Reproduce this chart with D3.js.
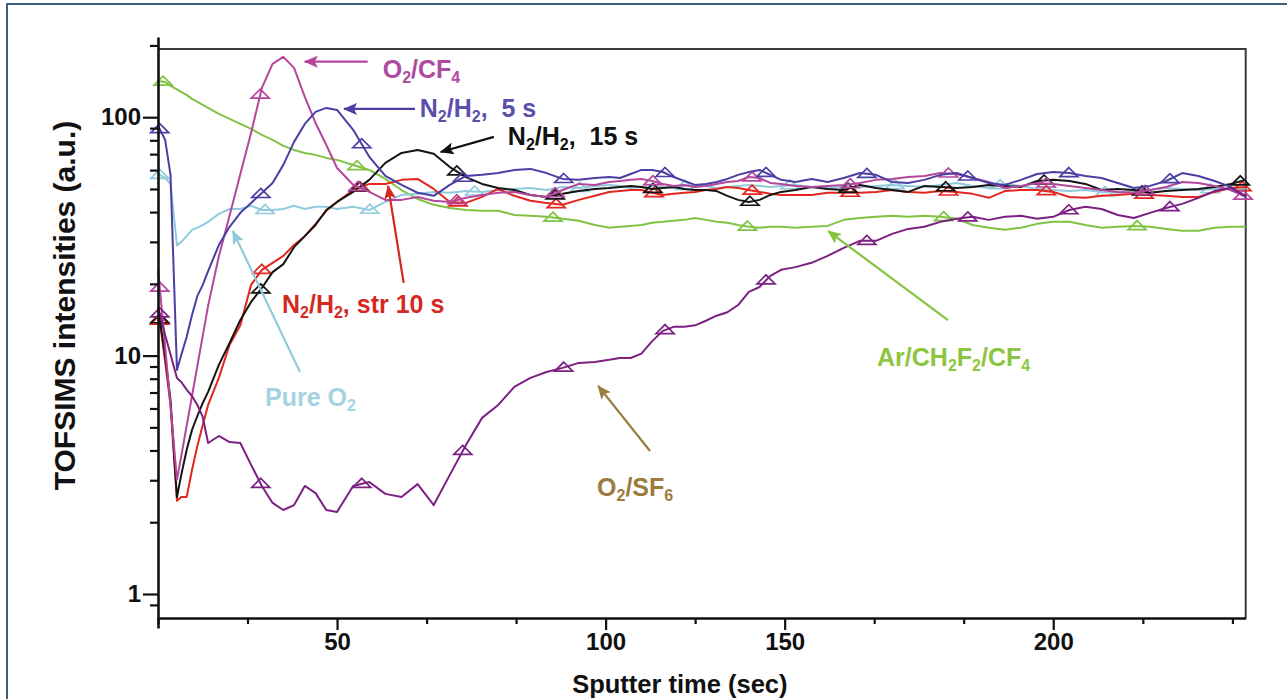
<!DOCTYPE html>
<html>
<head>
<meta charset="utf-8">
<script src="https://cdn.jsdelivr.net/npm/d3@7"></script>
<style>
  html, body { margin: 0; padding: 0; background: #ffffff; }
  svg { display: block; font-family: "Liberation Sans", Arial, Helvetica, sans-serif; }
  text { white-space: pre; }
</style>
</head>
<body>
<svg id="chart" width="1287" height="699"></svg>
<script>
// ---- Sputter time grid (sec), shared by every profile ----
const seconds = [16.7, 18, 19, 20.2, 21, 22, 23, 24, 25, 26,
  28, 30, 32, 34, 36, 38, 40, 42, 44, 46, 48, 50,
  53, 56, 59, 62, 65, 68, 71, 74, 77, 80, 83, 86, 89, 92, 95, 98,
  101, 104, 107, 110, 113, 116, 119, 122, 125, 128, 131, 134, 137, 140, 143, 146, 149,
  152, 155, 158, 161, 164, 167, 170, 173, 176, 179, 182, 185, 188, 191, 194, 197, 200,
  203, 206, 209, 212, 215, 218, 221, 224, 227, 230, 233, 235.8];

// ---- TOFSIMS intensities (a.u.) for each etch chemistry ----
const arCh2f2Cf4 = [142.0, 140.6, 135.3, 130.7, 127.7, 124.1, 119.4, 115.9, 112.6, 109.4,
  103.2, 98.4, 93.7, 89.3, 84.3, 80.3, 75.8, 72.9, 70.8, 69.5, 67.5, 66.2,
  63.0, 60.1, 55.1, 49.5, 45.4, 42.9, 41.6, 40.8, 40.5, 40.5, 38.9, 38.6, 38.2, 37.5, 36.8, 35.3,
  34.4, 34.7, 35.0, 35.3, 36.1, 36.4, 36.8, 37.1, 37.8, 37.1, 36.4, 36.1, 35.3, 34.7, 34.4, 34.7, 34.7,
  34.4, 34.7, 35.0, 37.1, 37.8, 38.2, 38.6, 38.2, 38.6, 38.2, 37.5, 35.3, 34.4, 33.7, 34.4, 35.7,
  36.4, 36.4, 35.3, 34.4, 34.7, 35.0, 34.7, 34.0, 33.4, 33.4, 34.4, 34.7, 34.7];

const o2Cf4 = [22.9, 10.9, 6.15, 3.01, 3.79, 5.07, 6.77, 9.05, 12.1, 16.2,
  26.1, 38.7, 57.8, 86.0, 132.7, 167.3, 179.1, 161.0, 121.7, 94.6, 76.5, 61.2,
  52.1, 48.6, 45.0, 45.0, 46.3, 44.6, 44.1, 45.9, 47.2, 48.2, 48.6, 47.2, 46.3, 49.5, 52.5, 52.0,
  53.5, 54.0, 54.6, 55.1, 54.0, 52.5, 51.5, 52.0, 51.0, 51.5, 52.5, 53.5, 54.0, 56.1, 55.6, 53.0, 52.5,
  51.5, 51.0, 51.5, 52.0, 53.0, 54.6, 55.1, 56.1, 56.7, 58.3, 57.8, 55.6, 53.5, 50.5, 51.5, 53.0,
  52.5, 51.5, 50.5, 49.5, 48.6, 48.2, 49.5, 51.0, 53.5, 53.0, 51.5, 49.5, 46.3];

const n2h2Pulse5s = [91.9, 80.3, 57.3, 8.71, 10.06, 11.97, 14.8, 17.8, 19.8, 22.6,
  29.1, 34.7, 39.7, 43.7, 48.1, 53.0, 63.1, 78.8, 93.7, 105.3, 109.4, 107.3,
  88.5, 68.2, 56.7, 52.0, 48.2, 46.8, 52.0, 56.7, 57.3, 58.3, 60.1, 60.7, 58.3, 55.1, 54.6, 55.6,
  56.1, 55.6, 57.8, 60.1, 60.1, 58.9, 56.1, 54.0, 52.0, 52.5, 53.5, 55.1, 57.3, 58.9, 60.1, 57.3, 54.6,
  53.5, 55.1, 53.5, 55.6, 58.3, 57.3, 53.5, 53.0, 54.6, 57.3, 58.3, 55.6, 53.0, 52.0, 54.6, 57.8,
  58.9, 58.3, 56.7, 55.6, 53.0, 50.5, 51.5, 54.0, 58.3, 56.7, 54.0, 51.0, 46.3];

const n2h2Pulse15s = [15.8, 9.97, 6.51, 2.55, 3.16, 4.02, 4.88, 5.58, 6.33, 7.04,
  9.14, 11.3, 14.1, 16.8, 19.2, 22.4, 24.2, 28.5, 31.7, 35.3, 40.8, 44.1,
  48.6, 54.6, 64.3, 70.8, 72.9, 70.2, 61.8, 56.1, 52.5, 50.5, 49.5, 47.2, 46.3, 47.7, 49.0, 50.0,
  50.5, 51.0, 51.5, 51.0, 50.0, 50.5, 51.0, 50.0, 49.5, 49.5, 49.0, 46.8, 45.0, 44.1, 45.0, 47.2, 48.6,
  49.5, 51.0, 50.0, 49.5, 52.0, 50.5, 49.5, 48.6, 51.5, 51.0, 50.5, 51.0, 52.0, 51.5, 51.0, 54.0,
  54.6, 54.0, 52.5, 49.5, 50.0, 49.5, 48.2, 49.0, 49.5, 50.0, 51.0, 52.5, 54.6];

const n2h2Str10s = [15.8, 9.41, 6.21, 2.46, 2.55, 2.55, 3.31, 4.18, 5.12, 6.21,
  8.06, 11.1, 13.4, 19.8, 22.9, 24.5, 26.2, 29.1, 31.7, 35.7, 40.5, 44.1,
  49.5, 52.5, 52.5, 54.6, 55.1, 50.0, 44.1, 43.7, 46.3, 50.0, 46.8, 44.6, 43.7, 42.9, 45.0, 46.8,
  48.6, 49.0, 49.5, 49.5, 48.2, 47.2, 47.7, 48.2, 48.6, 49.5, 50.0, 51.0, 50.5, 49.5, 48.6, 47.7, 47.2,
  47.2, 47.2, 48.2, 48.2, 48.2, 48.6, 49.5, 48.6, 48.2, 49.0, 48.6, 47.7, 45.9, 49.0, 49.5, 49.5,
  48.6, 46.3, 45.9, 46.8, 47.2, 47.7, 47.2, 46.8, 46.3, 46.3, 48.6, 50.5, 51.0];

const pureO2 = [57.8, 55.6, 52.5, 29.0, 30.0, 31.7, 33.7, 34.4, 35.3, 36.4,
  39.3, 41.2, 41.2, 42.5, 40.8, 40.8, 41.2, 42.5, 41.2, 42.1, 42.1, 41.2,
  42.1, 40.8, 44.1, 47.2, 47.7, 48.6, 48.2, 49.0, 48.6, 49.5, 50.0, 50.5, 49.5, 51.0, 50.5, 51.5,
  52.0, 51.5, 50.5, 51.0, 51.5, 51.0, 50.5, 51.5, 52.0, 51.5, 50.5, 51.0, 51.5, 52.0, 51.5, 51.0, 51.5,
  52.0, 51.0, 50.5, 51.0, 51.0, 51.5, 52.0, 51.5, 51.0, 52.0, 53.0, 51.5, 50.5, 52.5, 51.5, 50.0,
  49.5, 49.0, 49.5, 48.6, 48.2, 49.0, 49.5, 50.5, 50.0, 49.5, 50.0, 50.5, 50.0];

const o2Sf6 = [16.0, 12.2, 10.1, 8.06, 7.75, 7.2, 6.77, 6.21, 5.53, 4.30,
  4.60, 4.34, 4.30, 3.48, 2.84, 2.41, 2.25, 2.36, 2.84, 2.65, 2.25, 2.21,
  2.84, 2.95, 2.63, 2.55, 2.89, 2.36, 3.16, 4.22, 5.48, 6.21, 7.39, 8.06, 8.54, 8.88, 9.32, 9.41,
  9.6, 9.77, 9.77, 10.2, 11.5, 12.7, 13.2, 13.2, 13.4, 14.0, 14.7, 15.2, 16.3, 18.5, 19.4, 21.6, 22.9,
  23.5, 24.5, 26.2, 28.3, 30.3, 30.3, 32.4, 34.0, 34.7, 36.4, 37.5, 38.2, 37.1, 38.2, 38.6, 37.5,
  38.2, 40.8, 42.1, 41.2, 38.9, 37.8, 39.7, 41.6, 43.3, 45.9, 49.0, 50.5, 46.8];

// ---- Times (sec) carrying an open-triangle symbol on each profile ----
const arMarks = [17.6, 53.7, 90.2, 139.6, 179.6, 215.6];
const o2Cf4Marks = [17.0, 35.7, 53.9, 72.3, 90.6, 113.2, 140.9, 162.2, 180.5, 198.7, 217.1, 235.3];
const n2h2Pulse5sMarks = [17.0, 35.8, 54.6, 73.4, 92.2, 116.6, 144.8, 165.3, 184.1, 202.9, 221.7];
const n2h2Pulse15sMarks = [17.0, 35.8, 54.1, 72.3, 90.6, 113.2, 140.3, 161.8, 180.0, 198.3, 216.5, 234.8];
const n2h2Str10sMarks = [17.0, 36.0, 54.3, 72.5, 90.8, 113.5, 140.9, 162.2, 180.5, 198.7, 216.9, 235.1];
const pureO2Marks = [17.0, 36.6, 56.1, 75.6, 95.2, 122.1, 151.0, 170.5, 190.1, 209.6, 229.2];
const o2Sf6Marks = [17.0, 35.8, 54.6, 73.4, 92.2, 116.6, 144.8, 165.3, 184.1, 202.9, 221.7];

// ---- Axis ticks ----
const xMajorTicks = [50, 100, 150, 200];
const xMinorTicks = [16.67, 33.33, 66.67, 83.33, 125, 166.67, 183.33, 216.67, 233.33];
const xBreaks = [16.67, 50, 100, 150, 200, 235.8];      // sec at the labelled tick marks
const xBreakSlots = [0, 2, 5, 7, 10, 12.15];             // equal-width tick slots
const yMajorTicks = [1, 10, 100];
const yMinorTicks = [0.9, 2, 3, 4, 5, 6, 7, 8, 9, 20, 30, 40, 50, 60, 70, 80, 90, 200];
const yDomain = [0.72, 217];

// ---- Callout labels: text position and arrow (sec, a.u.) ----
const callouts = [
  { text: "O_2/CF_4",        color: "#b04a9e", line: "#b4479d", at: [58.5, 146],  from: [55.7, 171],  to: [44.0, 171] },
  { text: "N_2/H_2,  5 s",   color: "#5a4fab", line: "#4b3fa4", at: [65.4, 100.3], from: [64.5, 108.3], to: [51.3, 108.3] },
  { text: "N_2/H_2,  15 s",  color: "#111111", line: "#111111", at: [81.8, 76.5],  from: [79.2, 82.7],  to: [69.3, 71.5] },
  { text: "N_2/H_2, str 10 s", color: "#d4291f", line: "#d4291f", at: [39.75, 15.1], from: [62.4, 20.2],  to: [59.5, 51.5] },
  { text: "Pure O_2",        color: "#a6d3e1", line: "#92cadb", at: [36.6, 6.15],  from: [43.1, 8.54],  to: [30.6, 33.3] },
  { text: "Ar/CH_2F_2/CF_4", color: "#8cc540", line: "#84c344", at: [167.2, 9.05], from: [180.4, 14.1], to: [158.1, 33.3] },
  { text: "O_2/SF_6",        color: "#9c7c3e", line: "#9c7c3e", at: [98.4, 2.58],  from: [112.4, 3.98], to: [98.6, 7.46] }
];

const profiles = [
  { values: arCh2f2Cf4,   marks: arMarks,          color: "#80c343" },
  { values: pureO2,       marks: pureO2Marks,      color: "#8fcbdc" },
  { values: n2h2Str10s,   marks: n2h2Str10sMarks,  color: "#e3261f" },
  { values: n2h2Pulse15s, marks: n2h2Pulse15sMarks, color: "#141414" },
  { values: o2Cf4,        marks: o2Cf4Marks,       color: "#b4479d" },
  { values: n2h2Pulse5s,  marks: n2h2Pulse5sMarks, color: "#4b3fa4" },
  { values: o2Sf6,        marks: o2Sf6Marks,       color: "#7c2183" }
];

// ---- Layout ----
const W = 1287, H = 699;
const plot = { left: 158, right: 1245.7, bottom: 618, axisTop: 37, frameTop: 49 };

const svg = d3.select("#chart");

// panel border
svg.append("rect")
  .attr("x", 7).attr("y", 4).attr("width", 1300).attr("height", 720)
  .attr("fill", "none").attr("stroke", "#3f5f80").attr("stroke-width", 2);

const slotW = (plot.right - plot.left) / xBreakSlots[xBreakSlots.length - 1];
const x = d3.scaleLinear()
  .domain(xBreaks)
  .range(xBreakSlots.map(s => plot.left + s * slotW));

const y = d3.scaleLog()
  .domain(yDomain)
  .range([plot.bottom + 10, plot.axisTop]);

// frame (top and right)
svg.append("path")
  .attr("d", `M${plot.left},${plot.frameTop}H${plot.right}V${plot.bottom}`)
  .attr("fill", "none").attr("stroke", "#3a3a3a").attr("stroke-width", 2);

// ---- profiles ----
const line = d3.line()
  .x((d, i) => x(seconds[i]))
  .y(d => y(d));

function valueAt(vals, t) {
  const i = d3.bisectLeft(seconds, t);
  if (i <= 0) return vals[0];
  if (i >= seconds.length) return vals[vals.length - 1];
  const t0 = seconds[i - 1], t1 = seconds[i];
  const f = (t - t0) / (t1 - t0);
  return Math.pow(10, Math.log10(vals[i - 1]) * (1 - f) + Math.log10(vals[i]) * f);
}

const tri = "M0,-5.5L9,3.5L-9,3.5Z";

profiles.forEach(p => {
  const g = svg.append("g");
  g.append("path")
    .attr("d", line(p.values))
    .attr("fill", "none")
    .attr("stroke", p.color)
    .attr("stroke-width", 2)
    .attr("stroke-linejoin", "round");
  g.selectAll("path.sym")
    .data(p.marks)
    .join("path")
    .attr("class", "sym")
    .attr("d", tri)
    .attr("transform", t => `translate(${x(t)},${y(valueAt(p.values, t))})`)
    .attr("fill", "none")
    .attr("stroke", p.color)
    .attr("stroke-width", 1.7);
});

// ---- axes ----
const axisColor = "#111";
const yAxisMajor = d3.axisLeft(y).tickValues(yMajorTicks).tickSize(15).tickSizeOuter(0)
  .tickPadding(2).tickFormat(d3.format("d"));
const yAxisMinor = d3.axisLeft(y).tickValues(yMinorTicks).tickSize(8).tickSizeOuter(0).tickFormat("");

const gyMinor = svg.append("g").attr("transform", `translate(${plot.left},0)`).call(yAxisMinor);
const gy = svg.append("g").attr("transform", `translate(${plot.left},0)`).call(yAxisMajor);

const xAxisMajor = d3.axisBottom(x).tickValues(xMajorTicks).tickSize(12).tickSizeOuter(0)
  .tickPadding(3).tickFormat(d3.format("d"));
const xAxisMinor = d3.axisBottom(x).tickValues(xMinorTicks).tickSize(6).tickSizeOuter(0).tickFormat("");

const gxMinor = svg.append("g").attr("transform", `translate(0,${plot.bottom})`).call(xAxisMinor);
const gx = svg.append("g").attr("transform", `translate(0,${plot.bottom})`).call(xAxisMajor);

[gy, gyMinor, gx, gxMinor].forEach(g => {
  g.selectAll(".domain").attr("stroke", axisColor).attr("stroke-width", 2.6);
  g.selectAll(".tick line").attr("stroke", axisColor).attr("stroke-width", 2.2);
  g.selectAll(".tick text")
    .attr("fill", "#111")
    .style("font-family", "'Liberation Sans', Arial, sans-serif")
    .style("font-weight", "bold")
    .style("font-size", "24px");
});
gxMinor.select(".domain").remove();
gyMinor.select(".domain").remove();

// ---- axis titles ----
svg.append("text")
  .attr("transform", `translate(75,${(plot.axisTop + plot.bottom) / 2 - 22}) rotate(-90)`)
  .attr("text-anchor", "middle")
  .attr("fill", "#111")
  .style("font-weight", "bold")
  .style("font-size", "30px")
  .text("TOFSIMS intensities (a.u.)");

svg.append("text")
  .attr("x", (plot.left + plot.right) / 2 - 22)
  .attr("y", 693)
  .attr("text-anchor", "middle")
  .attr("fill", "#111")
  .style("font-weight", "bold")
  .style("font-size", "25.5px")
  .text("Sputter time (sec)");

// ---- callouts ----
const defs = svg.append("defs");
callouts.forEach((c, i) => {
  defs.append("marker")
    .attr("id", "head" + i)
    .attr("viewBox", "0 0 14 12")
    .attr("refX", 13).attr("refY", 6)
    .attr("markerWidth", 14).attr("markerHeight", 12)
    .attr("markerUnits", "userSpaceOnUse")
    .attr("orient", "auto")
    .append("path")
    .attr("d", "M0,0L14,6L0,12L3,6Z")
    .attr("fill", c.line);

  svg.append("line")
    .attr("x1", x(c.from[0])).attr("y1", y(c.from[1]))
    .attr("x2", x(c.to[0])).attr("y2", y(c.to[1]))
    .attr("stroke", c.line).attr("stroke-width", 2.2)
    .attr("marker-end", `url(#head${i})`);

  const t = svg.append("text")
    .attr("x", x(c.at[0])).attr("y", y(c.at[1]))
    .attr("fill", c.color)
    .style("font-weight", "bold")
    .style("font-size", "25px");
  // "_" marks a one-character subscript
  const parts = c.text.split(/_(.)/);
  let shifted = false;
  parts.forEach((s, k) => {
    if (s === "") return;
    const sub = k % 2 === 1;
    const ts = t.append("tspan").text(s);
    if (sub) { ts.style("font-size", "16px").attr("dy", 5); shifted = true; }
    else if (shifted) { ts.attr("dy", -5); shifted = false; }
  });
});
</script>
</body>
</html>
